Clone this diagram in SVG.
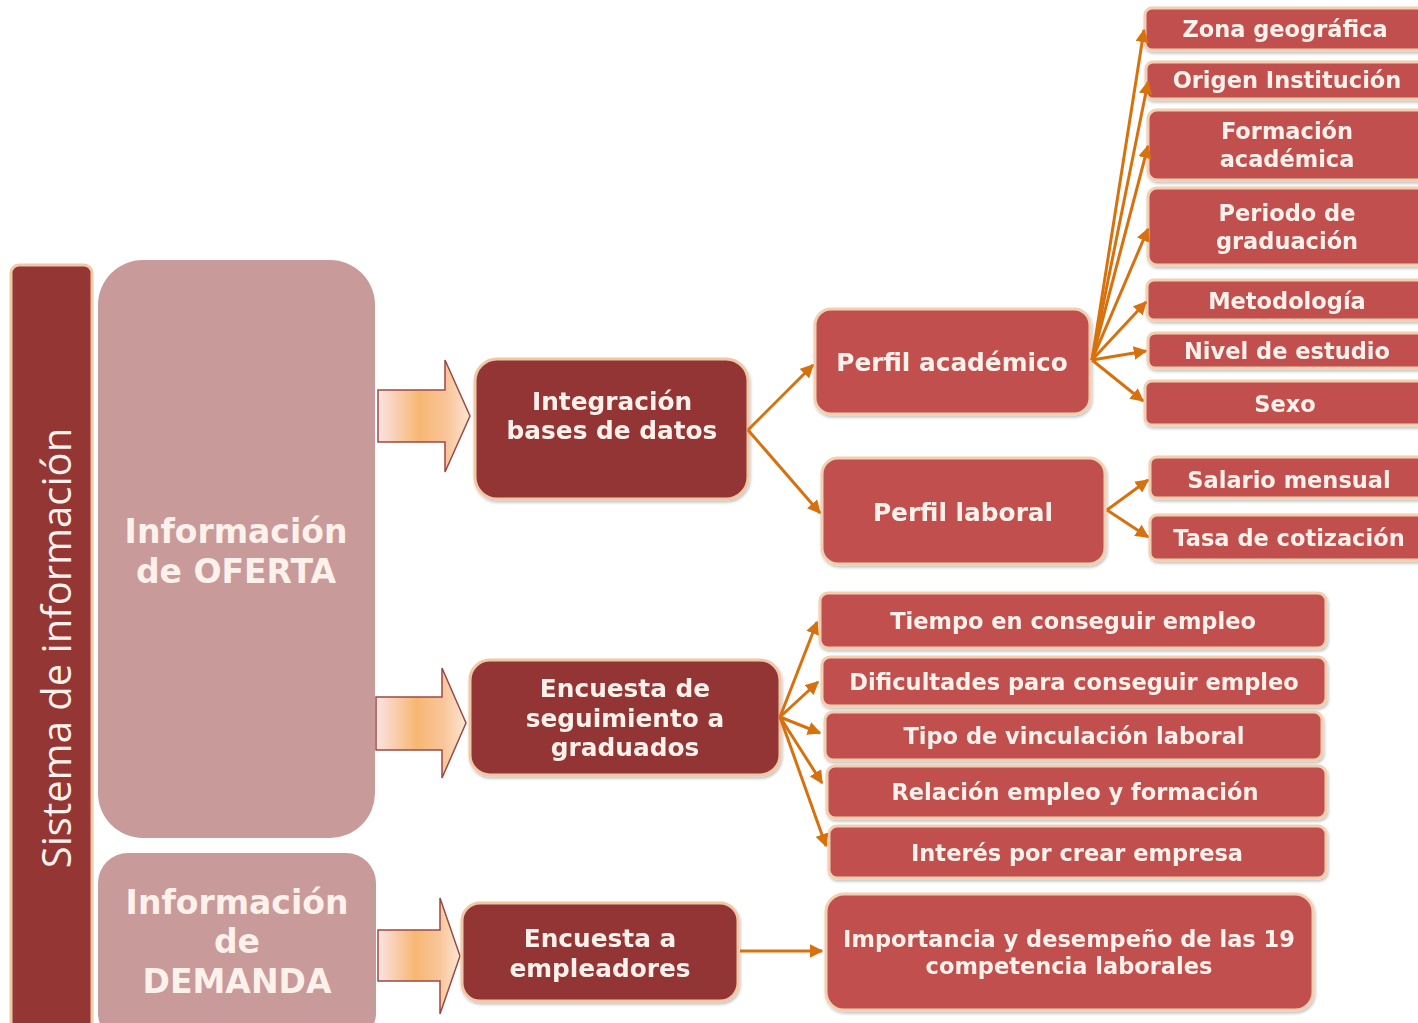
<svg xmlns="http://www.w3.org/2000/svg" width="1418" height="1023" viewBox="0 0 1418 1023">
<defs>
<linearGradient id="ga" x1="0" y1="0" x2="1" y2="0">
<stop offset="0" stop-color="#fbe3e3"/>
<stop offset="0.45" stop-color="#f7b773"/>
<stop offset="0.75" stop-color="#f9c59a"/>
<stop offset="1" stop-color="#fde6d2"/>
</linearGradient>
<marker id="ah" viewBox="0 0 10 10" refX="9" refY="5" markerWidth="4.5" markerHeight="4.5" orient="auto" markerUnits="strokeWidth">
<path d="M0,0 L10,5 L0,10 z" fill="#d7710e"/>
</marker>
<filter id="sh" x="-10%" y="-10%" width="120%" height="130%">
<feDropShadow dx="1" dy="2" stdDeviation="1.5" flood-color="#000" flood-opacity="0.25"/>
</filter>
</defs>
<style>
.dk{fill:#943634;stroke:#f0c8a6;stroke-width:3}
.md{fill:#c0504d;stroke:#f2cfb0;stroke-width:3}
.bg{fill:#c99a9a}
.t{font-family:"DejaVu Sans",Verdana,sans-serif;font-weight:bold;fill:#fdf1ec;text-anchor:middle}
.s21{font-size:22.5px}
.s23{font-size:24.8px}
.s30{font-size:33px}
.cn{fill:none;stroke:#d7710e;stroke-width:3;marker-end:url(#ah)}
.ba{fill:url(#ga);stroke:#9a4a44;stroke-width:1.5}
</style>
<rect width="1418" height="1023" fill="#ffffff"/>

<g id="sistema">
<rect class="dk" x="11" y="265" width="81" height="770" rx="8"/>
<text transform="translate(71,648) rotate(-90)" font-family="'Open Sans',sans-serif" font-size="40" fill="#fdf1ec" text-anchor="middle">Sistema de información</text>
</g>

<g id="oferta">
<rect class="bg" x="98" y="260" width="277" height="578" rx="45"/>
<text class="t s30" x="236" y="543">Información</text>
<text class="t s30" x="236" y="583">de OFERTA</text>
</g>

<g id="demanda">
<rect class="bg" x="98" y="853" width="278" height="190" rx="30"/>
<text class="t s30" x="237" y="914">Información</text>
<text class="t s30" x="237" y="953">de</text>
<text class="t s30" x="237" y="993">DEMANDA</text>
</g>

<g id="flecha1"><path class="ba" d="M378,390 H445 V360 L470,416 L445,472 V442 H378 Z"/></g>
<g id="flecha2"><path class="ba" d="M376,697 H442 V668 L466,723 L442,778 V750 H376 Z"/></g>
<g id="flecha3"><path class="ba" d="M378,930 H440 V898 L460,956 L440,1014 V981 H378 Z"/></g>

<g id="integracion" filter="url(#sh)">
<rect class="dk" x="475" y="359" width="273" height="140" rx="22"/>
<text class="t s23" x="612" y="410">Integración</text>
<text class="t s23" x="612" y="439">bases de datos</text>
</g>

<g id="seguimiento" filter="url(#sh)">
<rect class="dk" x="470" y="660" width="310" height="115" rx="20"/>
<text class="t s23" x="625" y="697">Encuesta de</text>
<text class="t s23" x="625" y="727">seguimiento a</text>
<text class="t s23" x="625" y="756">graduados</text>
</g>

<g id="empleadores" filter="url(#sh)">
<rect class="dk" x="462" y="903" width="276" height="98" rx="18"/>
<text class="t s23" x="600" y="947">Encuesta a</text>
<text class="t s23" x="600" y="977">empleadores</text>
</g>

<g id="perfil-academico" filter="url(#sh)">
<rect class="md" x="815" y="309" width="275" height="105" rx="16"/>
<text class="t s23" x="952" y="371">Perfil académico</text>
</g>

<g id="perfil-laboral" filter="url(#sh)">
<rect class="md" x="822" y="458" width="283" height="106" rx="16"/>
<text class="t s23" x="963" y="521">Perfil laboral</text>
</g>

<g id="zona" filter="url(#sh)"><rect class="md" x="1145" y="8" width="285" height="42" rx="7"/><text class="t s21" x="1285" y="37">Zona geográfica</text></g>
<g id="origen" filter="url(#sh)"><rect class="md" x="1146" y="62" width="284" height="37" rx="7"/><text class="t s21" x="1287" y="88">Origen Institución</text></g>
<g id="formacion" filter="url(#sh)"><rect class="md" x="1148" y="110" width="282" height="70" rx="9"/><text class="t s21" x="1287" y="139">Formación</text><text class="t s21" x="1287" y="167">académica</text></g>
<g id="periodo" filter="url(#sh)"><rect class="md" x="1148" y="188" width="282" height="77" rx="9"/><text class="t s21" x="1287" y="221">Periodo de</text><text class="t s21" x="1287" y="249">graduación</text></g>
<g id="metodologia" filter="url(#sh)"><rect class="md" x="1147" y="280" width="283" height="40" rx="7"/><text class="t s21" x="1287" y="309">Metodología</text></g>
<g id="nivel" filter="url(#sh)"><rect class="md" x="1148" y="333" width="282" height="35" rx="7"/><text class="t s21" x="1287" y="359">Nivel de estudio</text></g>
<g id="sexo" filter="url(#sh)"><rect class="md" x="1145" y="381" width="285" height="44" rx="7"/><text class="t s21" x="1285" y="412">Sexo</text></g>
<g id="salario" filter="url(#sh)"><rect class="md" x="1150" y="457" width="280" height="41" rx="7"/><text class="t s21" x="1289" y="488">Salario mensual</text></g>
<g id="tasa" filter="url(#sh)"><rect class="md" x="1150" y="515" width="280" height="45" rx="7"/><text class="t s21" x="1289" y="546">Tasa de cotización</text></g>

<g id="tiempo" filter="url(#sh)"><rect class="md" x="820" y="593" width="506" height="55" rx="8"/><text class="t s21" x="1073" y="629">Tiempo en conseguir empleo</text></g>
<g id="dificultades" filter="url(#sh)"><rect class="md" x="822" y="657" width="504" height="49" rx="8"/><text class="t s21" x="1074" y="690">Dificultades para conseguir empleo</text></g>
<g id="tipo" filter="url(#sh)"><rect class="md" x="825" y="712" width="497" height="48" rx="8"/><text class="t s21" x="1074" y="744">Tipo de vinculación laboral</text></g>
<g id="relacion" filter="url(#sh)"><rect class="md" x="827" y="766" width="499" height="52" rx="8"/><text class="t s21" x="1075" y="800">Relación empleo y formación</text></g>
<g id="interes" filter="url(#sh)"><rect class="md" x="829" y="826" width="497" height="52" rx="8"/><text class="t s21" x="1077" y="861">Interés por crear empresa</text></g>
<g id="importancia" filter="url(#sh)"><rect class="md" x="826" y="894" width="487" height="116" rx="18"/><text class="t s21" x="1069" y="947">Importancia y desempeño  de las 19</text><text class="t s21" x="1069" y="974">competencia laborales</text></g>

<g id="connectors">
<path class="cn" d="M748,430 L813,365"/>
<path class="cn" d="M748,430 L820,513"/>
<path class="cn" d="M1092,360 L1144,30"/>
<path class="cn" d="M1092,360 L1148,82"/>
<path class="cn" d="M1092,360 L1148,146"/>
<path class="cn" d="M1092,360 L1148,229"/>
<path class="cn" d="M1092,360 L1146,302"/>
<path class="cn" d="M1092,360 L1146,351"/>
<path class="cn" d="M1092,360 L1143,401"/>
<path class="cn" d="M1107,510 L1148,480"/>
<path class="cn" d="M1107,510 L1148,537"/>
<path class="cn" d="M780,717 L817,622"/>
<path class="cn" d="M780,717 L818,682"/>
<path class="cn" d="M780,717 L820,733"/>
<path class="cn" d="M780,717 L822,783"/>
<path class="cn" d="M780,717 L826,846"/>
<path class="cn" d="M740,951 L822,951"/>
</g>
</svg>
